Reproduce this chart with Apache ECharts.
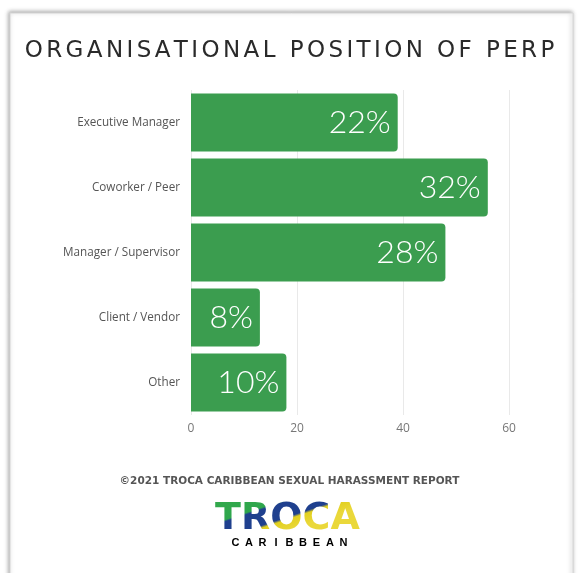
<!DOCTYPE html>
<html>
<head>
<meta charset="utf-8">
<script src="https://cdn.jsdelivr.net/npm/echarts@6/dist/echarts.min.js"></script>
<style>
  html, body { margin: 0; padding: 0; background: #ffffff; }
  #chart { width: 579px; height: 573px; }
</style>
</head>
<body>
<div id="chart"></div>
<script>
// Who the perpetrator was, by organisational position
const categories = ['Executive Manager', 'Coworker / Peer', 'Manager / Supervisor', 'Client / Vendor', 'Other'];
const counts = [39, 56, 48, 13, 18];          // responses per position (bar length)
const shares = [22, 32, 28, 8, 10];           // share of responses, % (bar label)
const xTicks = [0, 20, 40, 60];

const titleText = 'ORGANISATIONAL POSITION OF PERP';
const footerText = '\u00A92021 TROCA CARIBBEAN SEXUAL HARASSMENT REPORT';
const logoWord = 'TROCA';
const logoSub = 'CARIBBEAN';

const chart = echarts.init(document.getElementById('chart'), null, { renderer: 'canvas' });

// letter-spaced text: one rich-text cell per character
const spaced = (str, key) => str.split('').map(ch => '{' + key + '|' + ch + '}').join('');

chart.setOption({
  backgroundColor: '#ffffff',
  animation: false,
  title: {
    text: spaced(titleText, 't'),
    left: 'center',
    top: 35,
    textStyle: {
      rich: {
        t: {
          fontFamily: 'DejaVu Sans',
          fontSize: 23,
          fontWeight: 'normal',
          color: '#2a2a2a',
          padding: [0, 1.7, 0, 1.7]
        }
      }
    }
  },
  grid: { left: 191, right: 70, top: 90, bottom: 158, containLabel: false },
  xAxis: {
    type: 'value',
    min: xTicks[0],
    max: xTicks[xTicks.length - 1],
    interval: xTicks[1] - xTicks[0],
    axisLine: { show: false },
    axisTick: { show: false },
    splitLine: { show: true, lineStyle: { color: '#e9e9e9', width: 1 } },
    axisLabel: { color: '#777777', fontSize: 12, fontFamily: 'Open Sans', margin: 8 }
  },
  yAxis: {
    type: 'category',
    data: categories,
    inverse: true,
    axisLine: { show: false },
    axisTick: { show: false },
    axisLabel: { color: '#555555', fontSize: 11.7, fontFamily: 'Open Sans', margin: 11 }
  },
  series: [{
    type: 'bar',
    data: counts,
    barCategoryGap: '11%',
    itemStyle: { color: '#3b9d4f', borderRadius: [0, 4, 4, 0] },
    label: {
      show: true,
      position: 'insideRight',
      distance: 7,
      color: '#ffffff',
      fontFamily: 'Lato',
      fontWeight: 300,
      fontSize: 32,
      formatter: p => shares[p.dataIndex] + '%'
    }
  }],
  graphic: [
    {
      type: 'rect',
      z: -10,
      silent: true,
      shape: { x: 10, y: 13, width: 563, height: 580 },
      style: {
        fill: '#ffffff',
        stroke: '#d6d6d6',
        lineWidth: 1,
        shadowColor: 'rgba(0,0,0,0.35)',
        shadowBlur: 4,
        shadowOffsetX: -1,
        shadowOffsetY: -1
      }
    },
    {
      type: 'text',
      left: 'center',
      top: 476,
      style: {
        text: footerText,
        fontFamily: 'DejaVu Sans',
        fontSize: 10.5,
        fontWeight: 'bold',
        fill: '#555555'
      }
    },
    {
      // logo word in black; the colour band laid over it with a screen blend
      type: 'text',
      z: 20,
      x: 287.5,
      y: 519,
      style: {
        text: logoWord,
        fontFamily: 'DejaVu Sans',
        fontSize: 38,
        fontWeight: 'bold',
        fill: '#000000',
        align: 'center',
        verticalAlign: 'middle'
      }
    },
    {
      type: 'rect',
      z: 21,
      silent: true,
      shape: { x: 206, y: 498, width: 164, height: 40 },
      style: {
        blend: 'screen',
        fill: {
          type: 'linear',
          global: true,
          x: 240, y: 480, x2: 260, y2: 540,
          colorStops: [
            { offset: 0, color: '#35aa4b' },
            { offset: 0.52, color: '#2ea64c' },
            { offset: 0.55, color: '#1f408e' },
            { offset: 0.79, color: '#1f408e' },
            { offset: 0.83, color: '#e2d01f' },
            { offset: 1, color: '#ead83a' }
          ]
        }
      }
    },
    {
      type: 'text',
      left: 'center',
      top: 537,
      style: {
        text: spaced(logoSub, 'c'),
        rich: {
          c: {
            width: 13.5,
            align: 'center',
            fontFamily: 'Liberation Sans',
            fontSize: 11,
            fontWeight: 'bold',
            color: '#222222'
          }
        }
      }
    }
  ]
});
</script>
</body>
</html>
